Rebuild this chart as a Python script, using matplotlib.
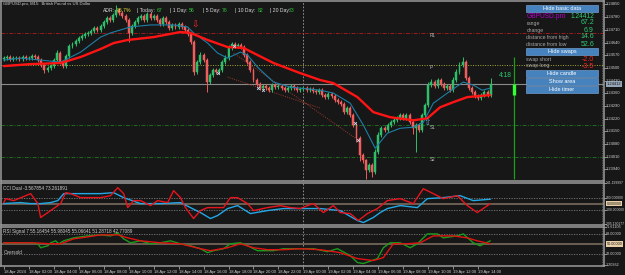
import numpy as np
import matplotlib
matplotlib.use('Agg')
import matplotlib.pyplot as plt
from matplotlib.patches import Rectangle
import matplotlib.transforms as mtrans

plt.rcParams['font.family'] = ['Liberation Sans', 'DejaVu Sans']

# ---------------- data ----------------
opens = [
    1.24549, 1.24554, 1.24560, 1.24549, 1.24554, 1.24554, 1.24549, 1.24560,
    1.24554, 1.24554, 1.24565, 1.24560, 1.24543, 1.24516, 1.24488, 1.24499,
    1.24510, 1.24543, 1.24582, 1.24532, 1.24510, 1.24565, 1.24621, 1.24632,
    1.24648, 1.24665, 1.24676, 1.24687, 1.24693, 1.24704, 1.24720, 1.24709,
    1.24731, 1.24753, 1.24775, 1.24764, 1.24792, 1.24820, 1.24803, 1.24787,
    1.24764, 1.24693, 1.24731, 1.24753, 1.24775, 1.24787, 1.24764, 1.24798,
    1.24775, 1.24787, 1.24764, 1.24742, 1.24775, 1.24753, 1.24720, 1.24737,
    1.24726, 1.24742, 1.24726, 1.24709, 1.24687, 1.24643, 1.24477, 1.24532,
    1.24571, 1.24543, 1.24422, 1.24460, 1.24488, 1.24477, 1.24488, 1.24532,
    1.24554, 1.24610, 1.24632, 1.24621, 1.24626, 1.24615, 1.24571, 1.24532,
    1.24488, 1.24433, 1.24411, 1.24388, 1.24399, 1.24388, 1.24377, 1.24405,
    1.24394, 1.24399, 1.24388, 1.24377, 1.24388, 1.24399, 1.24388, 1.24377,
    1.24383, 1.24388, 1.24377, 1.24383, 1.24372, 1.24366, 1.24377, 1.24350,
    1.24339, 1.24355, 1.24344, 1.24322, 1.24311, 1.24300, 1.24256, 1.24278,
    1.24239, 1.24184, 1.24112, 1.24018, 1.23990, 1.23935, 1.23963, 1.23924,
    1.24034, 1.24129, 1.24167, 1.24156, 1.24184, 1.24200, 1.24211, 1.24222,
    1.24239, 1.24222, 1.24239, 1.24200, 1.24167, 1.24184, 1.24156, 1.24239,
    1.24294, 1.24405, 1.24422, 1.24399, 1.24433, 1.24411, 1.24388, 1.24399,
    1.24377, 1.24433, 1.24477, 1.24516, 1.24532, 1.24444, 1.24388, 1.24366,
    1.24344, 1.24333, 1.24350, 1.24366, 1.24350]
closes = [
    1.24554, 1.24560, 1.24549, 1.24554, 1.24554, 1.24549, 1.24560, 1.24554,
    1.24554, 1.24565, 1.24560, 1.24543, 1.24516, 1.24488, 1.24499, 1.24510,
    1.24543, 1.24582, 1.24532, 1.24510, 1.24565, 1.24621, 1.24632, 1.24648,
    1.24665, 1.24676, 1.24687, 1.24693, 1.24704, 1.24720, 1.24709, 1.24731,
    1.24753, 1.24775, 1.24764, 1.24792, 1.24820, 1.24803, 1.24787, 1.24764,
    1.24693, 1.24731, 1.24753, 1.24775, 1.24787, 1.24764, 1.24798, 1.24775,
    1.24787, 1.24764, 1.24742, 1.24775, 1.24753, 1.24720, 1.24737, 1.24726,
    1.24742, 1.24726, 1.24709, 1.24687, 1.24643, 1.24477, 1.24532, 1.24571,
    1.24543, 1.24422, 1.24460, 1.24488, 1.24477, 1.24488, 1.24532, 1.24554,
    1.24610, 1.24632, 1.24621, 1.24626, 1.24615, 1.24571, 1.24532, 1.24488,
    1.24433, 1.24411, 1.24388, 1.24399, 1.24388, 1.24377, 1.24405, 1.24394,
    1.24399, 1.24388, 1.24377, 1.24388, 1.24399, 1.24388, 1.24377, 1.24383,
    1.24388, 1.24377, 1.24383, 1.24372, 1.24366, 1.24377, 1.24350, 1.24339,
    1.24355, 1.24344, 1.24322, 1.24311, 1.24300, 1.24256, 1.24278, 1.24239,
    1.24184, 1.24112, 1.24018, 1.23990, 1.23935, 1.23963, 1.23924, 1.24034,
    1.24129, 1.24167, 1.24156, 1.24184, 1.24200, 1.24211, 1.24222, 1.24239,
    1.24222, 1.24239, 1.24200, 1.24167, 1.24184, 1.24156, 1.24239, 1.24294,
    1.24405, 1.24422, 1.24399, 1.24433, 1.24411, 1.24388, 1.24399, 1.24377,
    1.24433, 1.24477, 1.24516, 1.24532, 1.24444, 1.24388, 1.24366, 1.24344,
    1.24333, 1.24350, 1.24366, 1.24350, 1.24412]
# wick lengths beyond the body, in pips
upper_wick = [
    1, 1, 1, 1, 1, 1, 1, 1,   1, 1, 1, 1, 1, 1, 1, 1,
    1, 1.7, 1, 1, 1, 1, 1, 1,   1, 1, 1, 1, 1, 1, 1, 1,
    1, 1, 1, 1, 2.8, 1, 1, 1,   1, 1, 1, 1, 1, 1, 1, 1,
    1, 1, 1, 1, 1, 1, 1, 1,   1, 1, 1, 1, 1, 1, 1, 1.5,
    1, 1, 1, 1, 1, 1, 1, 1.5,   1.5, 1, 1, 1, 1, 1, 1, 1,
    1, 1, 1, 1, 1, 1, 1, 1,   1, 1, 1, 1, 1, 1, 1, 1,
    1, 1, 1, 1, 1, 1, 1, 1,   1, 1, 1, 1, 1, 1, 1, 1,
    1, 1, 1, 1, 1, 1, 1, 2,   1.5, 1, 1, 1, 1, 1, 1, 1,
    1, 1, 1, 1, 1, 1, 1, 1,   2, 1.5, 1, 1, 1, 1, 1, 1,
    1.5, 1.5, 1.5, 2.6, 1, 1, 1, 1,   1, 1, 1, 1, 3]
lower_wick = [
    1, 1, 1, 1, 1, 1, 1, 1,   1, 1, 1, 1, 1, 1.5, 1, 1,
    1, 1, 1, 1, 1, 1, 1, 1,   1, 1, 1, 1, 1, 1, 1, 1,
    1, 1, 1, 1, 1, 1, 1, 1,   5, 1, 1, 1, 1, 1, 1, 1,
    1, 1, 1, 1, 1, 1, 1, 1,   1, 1, 1, 1, 1, 1.7, 1, 1,
    1, 5.5, 1, 1, 1, 1, 1, 1,   1, 1, 1, 1, 1, 1, 1, 1,
    1, 1, 1, 1, 1, 1, 1, 1,   1, 1, 1, 1, 1, 1, 1, 1,
    1, 1, 1, 1, 1, 1, 1, 1,   1, 1, 1, 1, 1, 1, 1, 1,
    1, 2, 3, 1.5, 4.9, 1, 2.8, 1,   1, 1, 1, 1, 1, 1, 1, 1,
    1, 1, 1, 3, 13, 1, 1, 1,   1, 1, 1, 1, 1, 1, 1, 1,
    1, 1, 1, 1, 1, 1, 1, 1,   1, 1, 1, 1, 1]

ema_slow_idx = [0, 8.6, 18.2, 24.6, 31.0, 35.2, 39.7, 48.0, 56.6, 59.8, 65.3, 71.7, 76.8,
                81.3, 86.4, 95.0, 101.4, 105.6, 113.3, 118.4, 123.8, 131.2, 135.7, 139.8,
                144.0, 148.5, 155.8]
ema_slow = [1.24510, 1.24521, 1.24527, 1.24560, 1.24604, 1.24637, 1.24654, 1.24670, 1.24698,
            1.24693, 1.24654, 1.24615, 1.24610, 1.24571, 1.24527, 1.24471, 1.24433, 1.24416,
            1.24339, 1.24256, 1.24228, 1.24211, 1.24222, 1.24283, 1.24311, 1.24339, 1.24350]
ema_fast_idx = [0, 5.4, 11.8, 18.2, 24.6, 31.0, 34.2, 40.6, 47.0, 54.4, 58.9, 60.8, 65.3, 68.5,
                71.7, 75.8, 78.1, 81.3, 86.4, 91.8, 101.4, 105.6, 111.0, 115.2, 119.0, 122.9,
                127.0, 131.2, 134.4, 137.6, 142.1, 147.2, 150.4, 153.3, 155.8]
ema_fast = [1.24543, 1.24554, 1.24543, 1.24532, 1.24587, 1.24670, 1.24693, 1.24726, 1.24737,
            1.24737, 1.24726, 1.24693, 1.24637, 1.24582, 1.24554, 1.24587, 1.24571, 1.24504,
            1.24422, 1.24394, 1.24377, 1.24361, 1.24305, 1.24184, 1.24057, 1.24140, 1.24167,
            1.24173, 1.24200, 1.24305, 1.24361, 1.24422, 1.24405, 1.24377, 1.24388]

price_ticks = [1.23940, 1.24010, 1.24080, 1.24150, 1.24220, 1.24290, 1.24360, 1.24430,
               1.24500, 1.24570, 1.24640, 1.24710, 1.24780, 1.24850]
bid = 1.24412
day_high = 1.24558
day_low = 1.23886

pivot_names = ['R1', 'P', 'S1', 'S2']
pivot_levels = [1.24693, 1.24516, 1.24184, 1.24007]

trend_a_idx = [73.6, 113.6]
trend_a = [1.24582, 1.24101]
trend_b_idx = [71.7, 101.4]
trend_b = [1.24449, 1.24278]

sell_arrow = (61.4, 1.24737)
buy_arrow = (135.7, 1.24200)
trade_idx = [68.5, 73.6, 81.3, 83.2, 112.5, 113.6]
trade_price = [1.24471, 1.24621, 1.24388, 1.24377, 1.24195, 1.24101]

cci_red_idx = [0, 0.6, 3.2, 8.6, 10.9, 11.8, 15.0, 18.2, 19.8, 21.4, 24.6, 31.0, 34.2, 36.5,
               38.4, 39.7, 41.6, 43.8, 47.0, 49.3, 52.5, 54.4, 56.6, 58.2, 60.8, 63.0, 65.3,
               67.2, 70.4, 72.6, 74.9, 78.1, 80.0, 84.5, 88.6, 91.8, 95.0, 97.3, 99.2, 102.4,
               105.6, 107.8, 111.0, 113.6, 116.5, 119.7, 122.9, 127.0, 131.2, 134.4, 137.6,
               140.8, 145.3, 148.5, 151.7, 155.8]
cci_red = [17, 83, 50, 167, 0, -233, -117, 0, 183, 167, 100, 100, 133, 267, 167, -67, 50, 50,
           -33, 50, 17, 217, 100, -67, -250, -117, -67, -67, -67, 100, 100, 0, -117, -67, -33,
           -67, -83, -33, 0, -150, -33, -150, -167, -283, -167, -83, 50, 83, 0, 250, 167, 83,
           133, -33, -150, -4]
cci_blue_idx = [0, 5.4, 8.6, 11.8, 15.0, 17.3, 19.2, 24.6, 31.0, 35.2, 38.4, 43.8, 50.2, 56.6,
                59.8, 63.0, 66.2, 68.5, 71.7, 74.9, 79.0, 84.5, 89.6, 95.0, 101.4, 107.8,
                113.3, 115.2, 118.4, 120.6, 122.9, 127.0, 132.5, 135.7, 140.8, 146.2, 150.4,
                155.8]
cci_blue = [0, 17, 0, 0, 17, 50, 167, 167, 167, 183, 100, 0, 0, 17, -67, -150, -250, -200,
            -83, -33, -167, -117, -83, -83, -83, -117, -283, -317, -233, -150, -83, -33, -67,
            83, 100, 133, 50, 73]
cci_ticks = [341, 100, -100, -345]
cci_tick_labels = ['141.199997', '100.000000', '-100.000000', '-205.130177']

rsi_green_idx = [0, 8.6, 10.9, 11.8, 14.1, 15.0, 16.6, 17.6, 19.2, 22.4, 26.9, 31.0, 34.2, 36.5,
                 38.4, 40.6, 43.8, 47.0, 50.2, 53.4, 56.6, 59.8, 63.0, 65.3, 67.2, 70.4, 72.6,
                 75.8, 78.1, 81.3, 86.4, 89.6, 95.0, 99.2, 103.7, 106.9, 111.0, 113.3, 115.2,
                 119.7, 121.6, 123.8, 127.0, 130.2, 132.5, 135.7, 138.9, 140.8, 145.3, 147.2,
                 150.4, 152.6, 155.8]
rsi_green = [51.8, 51.8, 50, 42.8, 46.4, 51.8, 55.4, 50, 55.4, 60.8, 64.4, 66.2, 64.4, 69.8, 59,
             51.8, 55.4, 50, 51.8, 55.4, 50, 46.4, 41, 33.8, 37.4, 41, 50, 51.8, 46.4, 37.4,
             37.4, 41, 41, 41, 35.6, 41, 28.4, 15.8, 14, 23, 42.8, 51.8, 51.8, 42.8, 50, 68,
             68, 60.8, 64.4, 68, 51.8, 46.4, 55.2]
rsi_red_idx = [0, 9.6, 15.0, 18.2, 22.4, 26.9, 31.0, 36.5, 39.7, 43.8, 50.2, 56.6, 63.0, 66.2,
               71.7, 75.8, 80.0, 84.5, 89.6, 95.0, 101.4, 107.8, 113.3, 118.4, 121.6, 124.8,
               129.3, 133.4, 137.6, 144.0, 148.5, 151.7, 155.8]
rsi_red = [51.8, 51.8, 50, 50, 59, 62.6, 66.2, 66.2, 60.8, 55.4, 51.8, 50, 41, 37.4, 42.8, 50,
           42.8, 39.2, 39.2, 41, 39.2, 33.8, 23, 19.4, 24.8, 50, 50, 51.8, 64.4, 64.4, 60.8,
           55.4, 50]
rsi_ticks = [80, 68, 32, 11]
rsi_tick_labels = ['71.61106', '68.00000', '32.00000', '1.20362']

time_ticks = list(range(0, 153, 8))
time_labels = ['18 Apr 2024', '18 Apr 02:00', '18 Apr 04:00', '18 Apr 06:00', '18 Apr 08:00',
               '18 Apr 10:00', '18 Apr 12:00', '18 Apr 14:00', '18 Apr 16:00', '18 Apr 18:00',
               '18 Apr 20:00', '18 Apr 22:00', '19 Apr 00:00', '19 Apr 02:00', '19 Apr 04:00',
               '19 Apr 06:00', '19 Apr 08:00', '19 Apr 10:00', '19 Apr 12:00', '19 Apr 14:00']
day_start = 96
timer_idx = 163.5

adr_parts = [('ADR:', '#d8d8d8'), ('86.7%', '#e2e23a'), ('| Today:', '#d8d8d8'), ('67', '#29c93a'),
             ('| 1 Day:', '#d8d8d8'), ('56', '#29c93a'), ('| 5 Day:', '#d8d8d8'), ('76', '#29c93a'),
             ('| 10 Day:', '#d8d8d8'), ('82', '#29c93a'), ('| 20 Day:', '#d8d8d8'), ('73', '#29c93a')]
info_rows = [('range', '67.2'), ('change', '6.9'), ('distance from high', '14.6'),
             ('distance from low', '52.6')]
swap_rows = [('swap short', '-2.0'), ('swap long', '-3.5')]

# ---------------- figure ----------------
W, H = 625, 275
BG = '#171717'
GREEN = '#2fbf6b'
RED = '#ef5d5d'
XMIN, XMAX = -0.9, 192.3

fig = plt.figure(figsize=(W / 100, H / 100), dpi=100)
fig.patch.set_facecolor(BG)


def fx(x):
    return x / W


def fy(y):
    return 1 - y / H


def panel(x0, y0, x1, y1):
    a = fig.add_axes([fx(x0), fy(y1), fx(x1) - fx(x0), fy(y0) - fy(y1)])
    a.set_facecolor(BG)
    for s in a.spines.values():
        s.set_color('#9c9c9c')
        s.set_linewidth(1.1)
    a.set_xticks([])
    a.set_yticks([])
    a.set_xlim(XMIN, XMAX)
    return a


def right_labels(a, values, labels, fs=3.0):
    tr = mtrans.blended_transform_factory(a.transAxes, a.transData)
    for v, s in zip(values, labels):
        a.text(1.003, v, s, transform=tr, fontsize=fs, color='#cfcfcf', va='center',
               ha='left', clip_on=False)
        a.plot([1.0, 1.003], [v, v], transform=tr, color='#bdbdbd', lw=0.5, clip_on=False)


def box_label(a, v, s, fc, fs=3.0):
    tr = mtrans.blended_transform_factory(a.transAxes, a.transData)
    a.text(1.004, v, s, transform=tr, fontsize=fs, color='#151515', va='center', ha='left',
           clip_on=False, zorder=10,
           bbox=dict(boxstyle='square,pad=0.2', fc=fc, ec='none'))


ax = panel(1, 1, 604, 180.5)
ax_cci = panel(1, 183, 604, 224.5)
ax_rsi = panel(1, 227, 604, 265.5)

ax.set_ylim(1.23879, 1.24869)
ax_cci.set_ylim(-350, 345)
ax_rsi.set_ylim(10.4, 80.6)

# day separator
for a in (ax, ax_cci, ax_rsi):
    a.axvline(day_start, color='#a0a0a0', lw=0.6, ls=(0, (2, 2)), zorder=1)
    a.axvline(XMAX - 0.5, color='#8a8a8a', lw=0.5, ls=(0, (1, 1.5)), zorder=1)

# pivot lines
pivot_styles = [('#9b1d1d', (0, (4, 1.5, 1, 1.5))), ('#a7a730', (0, (1, 1.5))),
                ('#1f6a1f', (0, (4, 1.5, 1, 1.5))), ('#1f6a1f', (0, (4, 1.5, 1, 1.5)))]
for name, lev, (c, ls) in zip(pivot_names, pivot_levels, pivot_styles):
    ax.axhline(lev, color=c, lw=0.7, ls=ls, zorder=1)
    ax.text(136.5, lev, name, fontsize=3.3, color='#b8b8b8', va='top', ha='left', zorder=5)

# bid line
ax.axhline(bid, color='#8a8a8a', lw=0.8, zorder=1)

# trend lines
ax.plot(trend_a_idx, trend_a, color='#9a3b2b', lw=0.7, ls=(0, (1, 1.3)), zorder=2)
ax.plot(trend_b_idx, trend_b, color='#9a3b2b', lw=0.7, ls=(0, (1, 1.3)), zorder=2)

# candles
o = np.array(opens)
c = np.array(closes)
hi = np.maximum(o, c) + np.array(upper_wick) / 10000
lo = np.minimum(o, c) - np.array(lower_wick) / 10000
idx = np.arange(len(c))
cols = np.where(c >= o, GREEN, RED)
ax.vlines(idx, lo, hi, colors=cols, lw=0.7, zorder=3)
ax.bar(idx, np.abs(c - o), bottom=np.minimum(o, c), width=0.62, color=cols, edgecolor=cols,
       linewidth=0.35, zorder=3)

# moving averages
ax.plot(ema_fast_idx, ema_fast, color='#1d7fa6', lw=0.8, zorder=4)
ax.plot(ema_slow_idx, ema_slow, color='#ff1414', lw=1.7, zorder=4, solid_capstyle='round')

# markers
ax.text(sell_arrow[0], sell_arrow[1], '\u21e9', color='#ff2a2a', fontsize=6.5, ha='center',
        va='center', family=['DejaVu Sans'], zorder=6)
ax.text(buy_arrow[0], buy_arrow[1], '\u21e7', color='#6fa8dc', fontsize=6.5, ha='center',
        va='center', family=['DejaVu Sans'], zorder=6)
ax.scatter(trade_idx, trade_price, marker='x', s=4, color='#c8d8ee', lw=0.6, zorder=6)

# timer / day range bar
ax.vlines(timer_idx, day_low, day_high, color='#1c9e1c', lw=0.9, zorder=4)
ax.vlines(timer_idx, opens[-1], closes[-1], color='#33ff33', lw=2.4, zorder=5)
ax.text(len(c) + 1.5, bid + 0.00045, '4:18', color='#2ecc71', fontsize=4.8, ha='left',
        va='center', zorder=6)

# price axis
right_labels(ax, price_ticks, ['%.5f' % v for v in price_ticks], fs=2.9)
box_label(ax, bid, '%.5f' % bid, '#95a6b8', fs=2.9)

# CCI panel
ax_cci.axhline(100, color='#7c7c7c', lw=0.6, ls=(0, (1.5, 1.5)))
ax_cci.axhline(-100, color='#7c7c7c', lw=0.6, ls=(0, (1.5, 1.5)))
ax_cci.axhline(0, color='#6b5f52', lw=1.4)
ax_cci.plot(cci_blue_idx, cci_blue, color='#22a8e6', lw=1.0, zorder=3)
ax_cci.plot(cci_red_idx, cci_red, color='#e8141e', lw=1.0, zorder=4)
right_labels(ax_cci, cci_ticks, cci_tick_labels, fs=2.4)
box_label(ax_cci, 0, '0.000000', '#ead0a8', fs=2.5)
ax_cci.text(0.004, 0.93, 'CCI Dual -3.567854 73.261891', transform=ax_cci.transAxes,
            fontsize=3.3, color='#d0d0d0', va='top', ha='left')

# RSI panel
ax_rsi.axhline(68, color='#7c7c7c', lw=0.6, ls=(0, (1.5, 1.5)))
ax_rsi.axhline(32, color='#7c7c7c', lw=0.6, ls=(0, (1.5, 1.5)))
ax_rsi.axhline(50, color='#6b5f52', lw=1.4)
ax_rsi.plot(rsi_green_idx, rsi_green, color='#1c9a1c', lw=1.0, zorder=3)
ax_rsi.plot(rsi_red_idx, rsi_red, color='#e01212', lw=1.0, zorder=4)
right_labels(ax_rsi, rsi_ticks, rsi_tick_labels, fs=2.7)
box_label(ax_rsi, 50, '50.00000', '#ead0a8', fs=2.7)
ax_rsi.text(0.004, 0.95, 'RSI Signal 7 55.16454 55.98045 55.06641 51.28718 42.77089',
            transform=ax_rsi.transAxes, fontsize=3.3, color='#d0d0d0', va='top', ha='left')
ax_rsi.text(0.004, 30, 'Oversold', transform=mtrans.blended_transform_factory(
    ax_rsi.transAxes, ax_rsi.transData), fontsize=3.3, color='#c8c8c8', va='bottom', ha='left')

# time axis
ax_rsi.set_xticks(time_ticks)
ax_rsi.set_xticklabels(time_labels, fontsize=3.0, color='#cfcfcf', ha='left')
ax_rsi.tick_params(axis='x', length=2.2, width=0.5, color='#bdbdbd', pad=1.2)

# header texts
fig.text(fx(3), fy(4), 'GBPUSD.pro, M15:  British Pound vs US Dollar', fontsize=3.0,
         color='#d0d0d0', va='center', ha='left')
adr_x = [103, 117, 137, 157, 170, 189, 203, 222, 235, 258, 270, 289]
for (s, col), xx in zip(adr_parts, adr_x):
    fig.text(fx(xx), fy(10.5), s, fontsize=3.7, color=col, va='center', ha='left')

# info panel
BTN = '#4682be'


def button(y0, y1, label):
    fig.add_artist(Rectangle((fx(526), fy(y1)), fx(598) - fx(526), fy(y0) - fy(y1),
                             transform=fig.transFigure, fc=BTN, ec='#7fb0e0', lw=0.4))
    fig.text(fx(562), fy((y0 + y1) / 2), label, fontsize=4.0, color='white', ha='center',
             va='center')


button(5, 12, 'Hide basic data')
fig.text(fx(526.5), fy(16), 'GBPUSD.pro', fontsize=4.8, color='#b400cc', ha='left', va='center')
fig.text(fx(594), fy(16), '%.5f' % bid, fontsize=4.8, color='#2ecc71', ha='right', va='center')
for (lab, val), yy in zip(info_rows, [23, 30.5, 37, 44]):
    fig.text(fx(526.5), fy(yy), lab, fontsize=3.7, color='#a8a8a8', ha='left', va='center')
    fig.text(fx(594), fy(yy), val, fontsize=5.0, color='#2ecc71', ha='right', va='center')
button(48, 55, 'Hide swaps')
for (lab, val), yy in zip(swap_rows, [59.5, 66]):
    fig.text(fx(526.5), fy(yy), lab, fontsize=3.7, color='#a8a8a8', ha='left', va='center')
    fig.text(fx(594), fy(yy), val, fontsize=5.0, color='#ff2222', ha='right', va='center')
button(70.5, 77, 'Hide candle')
button(78.5, 85, 'Show area')
button(86, 92.5, 'Hide timer')

fig.savefig('out.png', dpi=100, facecolor=BG)
